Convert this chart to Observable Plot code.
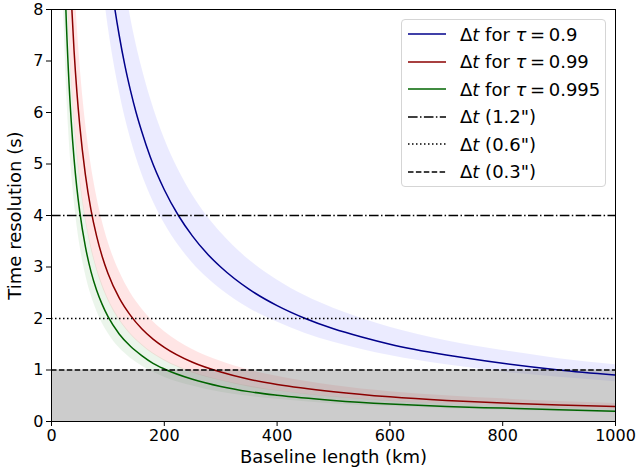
<!DOCTYPE html>
<html>
<head>
<meta charset="utf-8">
<script src="https://cdn.jsdelivr.net/npm/d3@7"></script>
<script src="https://cdn.jsdelivr.net/npm/@observablehq/plot@0.6"></script>
<style>
  html, body { margin: 0; padding: 0; background: #fff; }
  #wrap { position: relative; width: 638px; height: 470px; font-family: "DejaVu Sans", sans-serif; }
  #wrap svg text { font-size: 16px !important; font-family: "DejaVu Sans", sans-serif !important; fill: #000; }
  #wrap svg g[aria-label="x-axis label"] text, #wrap svg g[aria-label="y-axis label"] text { font-size: 18px !important; }
  #legend { position: absolute; left: 401px; top: 19px; width: 203px; height: 166px;
    border: 1px solid #d5d5d5; border-radius: 4px; background: rgba(255,255,255,0.85);
    font-size: 18px; color: #000; }
  .row { position: absolute; left: 0; height: 22px; display: flex; align-items: center; white-space: nowrap; }
  .row svg { margin-left: 6px; margin-right: 14px; }
  i { font-family: "DejaVu Sans", sans-serif; }
</style>
</head>
<body>
<div id="wrap"></div>
<script>
// ---- data ----
const blueX = [90, 100, 110, 120, 130, 140, 150, 160, 175, 200, 225, 250, 275, 300, 350, 400, 450, 500, 550, 600, 700, 800, 900, 1000];
const blueY = [10.0, 9.0, 8.18, 7.5, 6.92, 6.43, 6.0, 5.63, 5.14, 4.5, 4.0, 3.6, 3.27, 3.0, 2.57, 2.25, 2.0, 1.8, 1.64, 1.5, 1.29, 1.13, 1.0, 0.9];
const blueLo = [8.56, 7.7, 7.0, 6.42, 5.92, 5.5, 5.13, 4.81, 4.4, 3.85, 3.42, 3.08, 2.8, 2.57, 2.2, 1.93, 1.71, 1.54, 1.4, 1.28, 1.1, 0.96, 0.86, 0.77];
const blueHi = [12.2, 11.0, 10.0, 9.17, 8.46, 7.86, 7.33, 6.88, 6.29, 5.5, 4.89, 4.4, 4.0, 3.67, 3.14, 2.75, 2.44, 2.2, 2.0, 1.83, 1.57, 1.38, 1.22, 1.1];

const rgX = [20, 25, 30, 35, 40, 45, 50, 60, 70, 80, 90, 100, 120, 140, 160, 180, 200, 250, 300, 350, 400, 500, 600, 700, 800, 900, 1000];
const redY = [14.4, 11.52, 9.6, 8.23, 7.2, 6.4, 5.76, 4.8, 4.11, 3.6, 3.2, 2.88, 2.4, 2.06, 1.8, 1.6, 1.44, 1.15, 0.96, 0.82, 0.72, 0.58, 0.48, 0.41, 0.36, 0.32, 0.29];
const redLo = [11.8, 9.44, 7.87, 6.74, 5.9, 5.24, 4.72, 3.93, 3.37, 2.95, 2.62, 2.36, 1.97, 1.69, 1.48, 1.31, 1.18, 0.94, 0.79, 0.67, 0.59, 0.47, 0.39, 0.34, 0.3, 0.26, 0.24];
const redHi = [17.5, 14.0, 11.67, 10.0, 8.75, 7.78, 7.0, 5.83, 5.0, 4.38, 3.89, 3.5, 2.92, 2.5, 2.19, 1.94, 1.75, 1.4, 1.17, 1.0, 0.88, 0.7, 0.58, 0.5, 0.44, 0.39, 0.35];
const greenY = [10.2, 8.16, 6.8, 5.83, 5.1, 4.53, 4.08, 3.4, 2.91, 2.55, 2.27, 2.04, 1.7, 1.46, 1.28, 1.13, 1.02, 0.82, 0.68, 0.58, 0.51, 0.41, 0.34, 0.29, 0.26, 0.23, 0.2];
const greenLo = [8.6, 6.88, 5.73, 4.91, 4.3, 3.82, 3.44, 2.87, 2.46, 2.15, 1.91, 1.72, 1.43, 1.23, 1.08, 0.96, 0.86, 0.69, 0.57, 0.49, 0.43, 0.34, 0.29, 0.25, 0.22, 0.19, 0.17];
const greenHi = [12.0, 9.6, 8.0, 6.86, 6.0, 5.33, 4.8, 4.0, 3.43, 3.0, 2.67, 2.4, 2.0, 1.71, 1.5, 1.33, 1.2, 0.96, 0.8, 0.69, 0.6, 0.48, 0.4, 0.34, 0.3, 0.27, 0.24];

const thresholdLabels = ['1.2"', '0.6"', '0.3"'];
const thresholdValues = [4, 2, 1];
const grayRegionX = [0, 1000];
const grayRegionTop = [1, 1];

const xTicks = [0, 200, 400, 600, 800, 1000];
const yTicks = [0, 1, 2, 3, 4, 5, 6, 7, 8];

const seriesLabels = ["0.9", "0.99", "0.995"];
const lineColors = ["#00008b", "#8b0000", "#006400"];
const bandColors = ["blue", "red", "green"];

// ---- build tables ----
const blue = blueX.map((x, i) => ({x, y: blueY[i], lo: blueLo[i], hi: blueHi[i]}));
const red = rgX.map((x, i) => ({x, y: redY[i], lo: redLo[i], hi: redHi[i]}));
const green = rgX.map((x, i) => ({x, y: greenY[i], lo: greenLo[i], hi: greenHi[i]}));
const gray = grayRegionX.map((x, i) => ({x, y: grayRegionTop[i]}));
const dashes = ["9.6,2.4,1.5,2.4", "1.5,2.5", "5.5,2.4"];
const curve = "monotone-x";

const chart = Plot.plot({
  width: 638,
  height: 470,
  marginLeft: 51,
  marginRight: 23,
  marginTop: 9,
  marginBottom: 49,
  style: {fontFamily: "DejaVu Sans, sans-serif", fontSize: "16px", color: "#000", background: "#fff"},
  x: {domain: [0, 1000]},
  y: {domain: [0, 8]},
  marks: [
    Plot.areaY(blue, {x: "x", y1: "lo", y2: "hi", fill: bandColors[0], fillOpacity: 0.08, curve, clip: true}),
    Plot.areaY(red, {x: "x", y1: "lo", y2: "hi", fill: bandColors[1], fillOpacity: 0.1, curve, clip: true}),
    Plot.areaY(green, {x: "x", y1: "lo", y2: "hi", fill: bandColors[2], fillOpacity: 0.08, curve, clip: true}),
    Plot.areaY(gray, {x: "x", y1: 0, y2: "y", fill: "gray", fillOpacity: 0.4}),
    Plot.line(blue, {x: "x", y: "y", stroke: lineColors[0], strokeWidth: 1.5, curve, clip: true}),
    Plot.line(red, {x: "x", y: "y", stroke: lineColors[1], strokeWidth: 1.5, curve, clip: true}),
    Plot.line(green, {x: "x", y: "y", stroke: lineColors[2], strokeWidth: 1.5, curve, clip: true}),
    ...thresholdValues.map((v, i) => Plot.ruleY([v], {stroke: "black", strokeWidth: 1.5, strokeDasharray: dashes[i]})),
    Plot.frame({stroke: "black", strokeWidth: 1}),
    Plot.axisX({ticks: xTicks, tickFormat: d => String(d), tickSize: 5, tickPadding: 3, fontSize: 16, label: "Baseline length (km)", labelAnchor: "center", labelArrow: "none", labelOffset: 41}),
    Plot.axisY({ticks: yTicks, tickFormat: d => String(d), tickSize: 5, tickPadding: 3, fontSize: 16, label: "Time resolution (s)", labelAnchor: "center", labelArrow: "none", labelOffset: 43})
  ]
});

const wrap = document.getElementById("wrap");
wrap.appendChild(chart);

// ---- legend ----
const legend = document.createElement("div");
legend.id = "legend";
const rows = [
  ...seriesLabels.map((s, i) => ({html: `Δ<i>t</i> for <i>τ</i>&#8201;=&#8201;${s}`, color: lineColors[i], dash: null})),
  ...thresholdLabels.map((s, i) => ({html: `Δ<i>t</i> (${s})`, color: "black", dash: dashes[i]}))
];
rows.forEach((r, i) => {
  const row = document.createElement("div");
  row.className = "row";
  row.style.top = (3 + i * 27.5) + "px";
  row.innerHTML = `<svg width="38" height="10"><line x1="0" x2="38" y1="5" y2="5" stroke="${r.color}" stroke-width="1.5" ${r.dash ? `stroke-dasharray="${r.dash}"` : ""}/></svg><span>${r.html}</span>`;
  legend.appendChild(row);
});
wrap.appendChild(legend);
</script>
</body>
</html>
